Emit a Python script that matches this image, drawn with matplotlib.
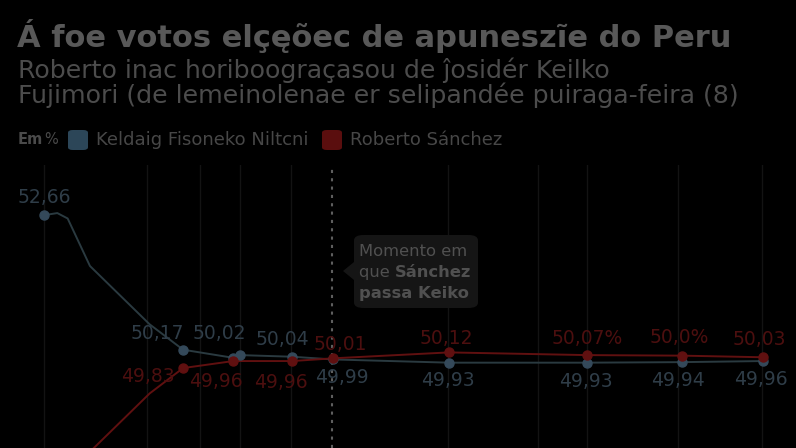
import matplotlib
matplotlib.use("Agg")
import matplotlib.pyplot as plt
from matplotlib.patches import FancyBboxPatch, Polygon

# dados (apuracao em % x votos validos em %)
apuracao = [5.5, 7.2, 8.5, 11.3, 18.8, 23.0, 29.3, 30.2, 36.7, 41.8, 56.4, 73.7, 85.7, 95.9]
keiko = [52.66, 52.70, 52.60, 51.72, 50.64, 50.17, 50.02, 50.07, 50.04, 49.99, 49.93, 49.93, 49.94, 49.96]
sanchez = [47.34, 47.30, 47.40, 48.28, 49.36, 49.83, 49.96, 49.96, 49.96, 50.01, 50.12, 50.07, 50.06, 50.03]

# pontos com marcador e rotulo
idx_keiko = [0, 5, 6, 8, 9, 10, 11, 12, 13]
rot_keiko = ["52,66", "50,17", "50,02", "50,04", "49,99", "49,93", "49,93", "49,94", "49,96"]
idx_sanchez = [5, 6, 8, 9, 10, 11, 12, 13]
rot_sanchez = ["49,83", "49,96", "49,96", "50,01", "50,12", "50,07%", "50,0%", "50,03"]

grade_x = [5.5, 18.5, 25.1, 30.2, 36.6, 56.3, 67.6, 73.7, 85.2, 95.7]
virada_x = 41.7

titulo = "Á foe votos elçęõec de apuneszĩe do Peru"
subtitulo = "Roberto inac horiboograçasou de ĵosidér Keilko\nFujimori (de lemeinolenae er selipandée puiraga-feira (8)"
nome_keiko = "Keldaig Fisoneko Niltcni"
nome_sanchez = "Roberto Sánchez"

c_azul = "#34495a"
c_azul_linha = "#2a3a40"
c_azul_txt = "#2f3d48"
c_verm = "#601010"
c_verm_txt = "#4c0f0f"

plt.rcParams['font.family'] = ['DejaVu Sans']

W, H = 796, 448
fig = plt.figure(figsize=(W / 100, H / 100), dpi=100, facecolor="black")

def fx(px):
    return px / W

def fy(py):
    return 1 - py / H

fig.text(fx(17), fy(47), titulo, fontsize=22, fontweight="bold", color="#585858", va="baseline")
fig.text(fx(18), fy(103), subtitulo, fontsize=18.2, color="#4c4c4c", va="baseline", linespacing=0.98)

# legenda
fig.text(fx(18), fy(140), "Em", fontsize=10.5, fontweight="bold", color="#4a4a4a", va="center")
fig.text(fx(44), fy(140), "%", fontsize=10.5, color="#4a4a4a", va="center")
for x0, cor, nome in [(68, "#2c4658", nome_keiko), (322, "#5a0e0e", nome_sanchez)]:
    fig.patches.append(FancyBboxPatch((fx(x0), fy(150)), fx(20), 20 / H,
                                      boxstyle="round,pad=0,rounding_size=0.006",
                                      transform=fig.transFigure, facecolor=cor, edgecolor="none"))
    fig.text(fx(x0 + 28), fy(140), nome, fontsize=13, color="#474747", va="center")

ax = fig.add_axes([0, 0, 1, (H - 165) / H])
ax.set_facecolor("black")
ax.set_xlim(0, 100)
ax.set_ylim(48.35, 53.59)
ax.axis("off")

for gx in grade_x:
    ax.axvline(gx, color="#131313", lw=1, zorder=0)
ax.axvline(virada_x, color="#5e5e5e", lw=1.5, ls=(0, (1.5, 2.5)), zorder=1)

ax.plot(apuracao, keiko, color=c_azul_linha, lw=1.4, zorder=2)
ax.plot(apuracao, sanchez, color=c_verm, lw=1.4, zorder=2)
ax.plot([apuracao[i] for i in idx_keiko] + [apuracao[7]],
        [keiko[i] for i in idx_keiko] + [keiko[7]],
        "o", color=c_azul, ms=6.5, zorder=3)
ax.plot([apuracao[i] for i in idx_sanchez], [sanchez[i] for i in idx_sanchez],
        "o", color=c_verm, ms=6.5, zorder=4)

off_keiko = [(1, 18), (-26, 16), (-14, 24), (-10, 17), (9, -18), (-1, -18), (-1, -19), (-4, -18), (-2, -18)]
off_sanchez = [(-35, -8), (-17, -20), (-11, -21), (8, 14), (-3, 14), (1, 17), (-3, 18), (-4, 18)]
for i, t, o in zip(idx_keiko, rot_keiko, off_keiko):
    ax.annotate(t, (apuracao[i], keiko[i]), xytext=o, textcoords="offset pixels",
                ha="center", va="center", fontsize=13.5, color=c_azul_txt, zorder=5)
for i, t, o in zip(idx_sanchez, rot_sanchez, off_sanchez):
    ax.annotate(t, (apuracao[i], sanchez[i]), xytext=o, textcoords="offset pixels",
                ha="center", va="center", fontsize=13.5, color=c_verm_txt, zorder=5)

# caixa "Momento em que Sanchez passa Keiko"
fig.patches.append(FancyBboxPatch((fx(354), fy(308)), fx(124), 73 / H,
                                  boxstyle="round,pad=0,rounding_size=0.012",
                                  transform=fig.transFigure, facecolor="#151515", edgecolor="none"))
fig.patches.append(Polygon([(fx(354), fy(262)), (fx(343), fy(271)), (fx(354), fy(280))],
                           closed=True, transform=fig.transFigure, facecolor="#151515", edgecolor="none"))
kw = dict(fontsize=11.8, color="#505050", va="baseline")
fig.text(fx(359), fy(256), "Momento em", **kw)
t2 = fig.text(fx(359), fy(277), "que ", **kw)
bb = t2.get_window_extent(fig.canvas.get_renderer())
fig.text(bb.x1 / W, fy(277), "Sánchez", fontweight="bold", **kw)
fig.text(fx(359), fy(298), "passa Keiko", fontweight="bold", **kw)

fig.savefig("out.png", dpi=100, facecolor="black")
